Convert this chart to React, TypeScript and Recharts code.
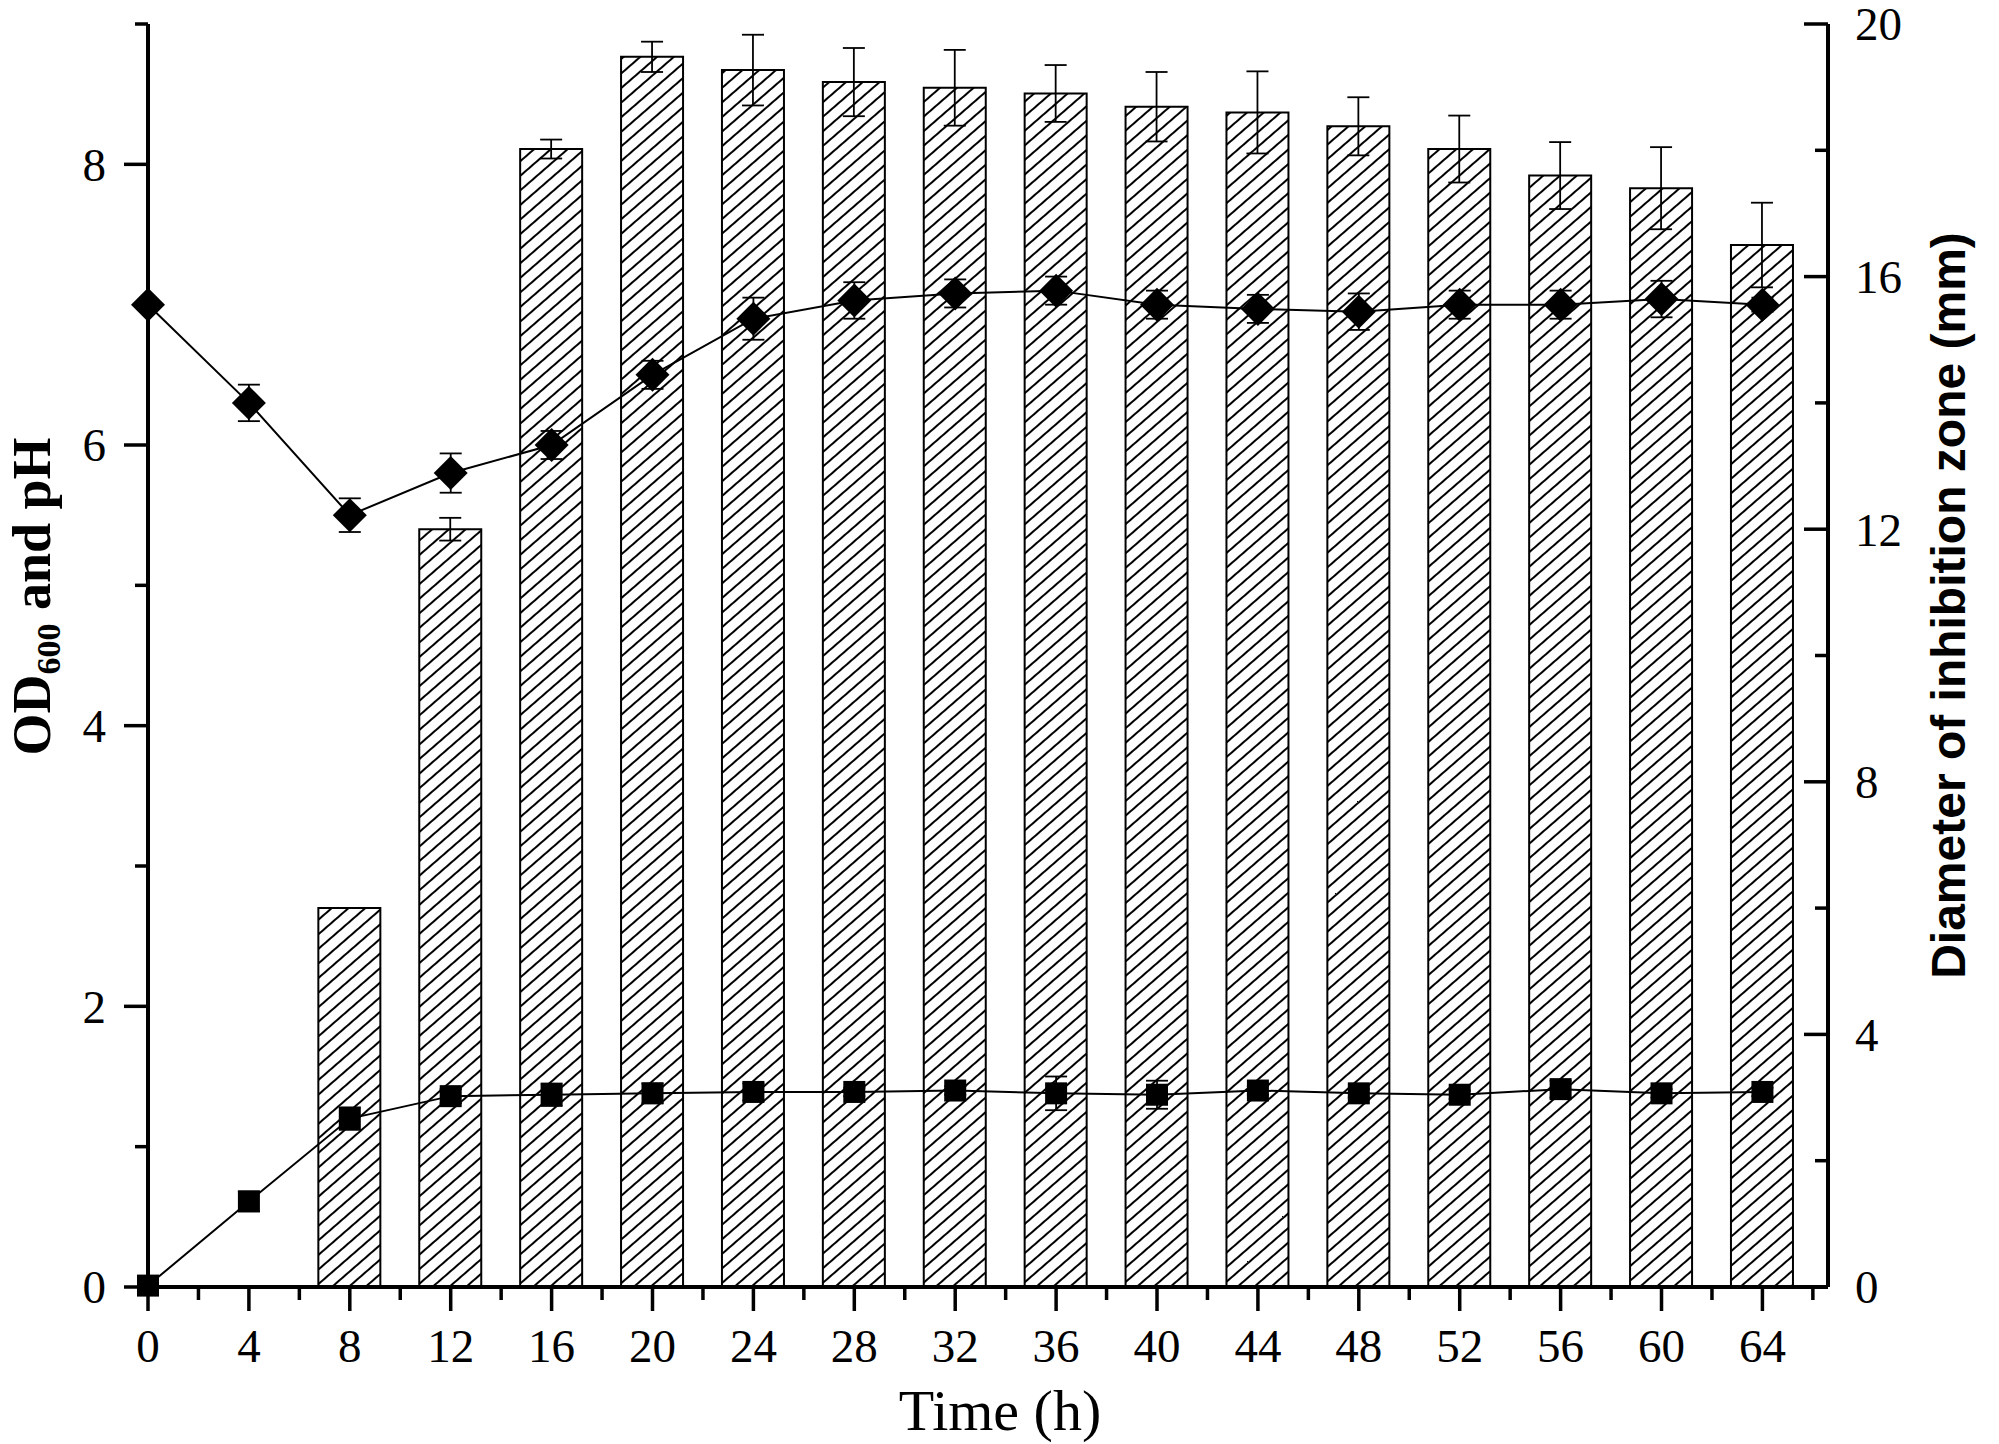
import React from "react";
import {
  ComposedChart,
  Bar,
  Line,
  XAxis,
  YAxis,
  ErrorBar,
} from "recharts";

// sampling times (h)
const hours = [0, 4, 8, 12, 16, 20, 24, 28, 32, 36, 40, 44, 48, 52, 56, 60, 64];
// diameter of inhibition zone (mm), right axis
const zone = [null, null, 6.0, 12.0, 18.02, 19.48, 19.27, 19.08, 18.99, 18.9, 18.69, 18.6, 18.38, 18.02, 17.6, 17.4, 16.5];
const zoneErr = [null, null, 0, 0.18, 0.15, 0.24, 0.56, 0.54, 0.6, 0.45, 0.55, 0.65, 0.46, 0.53, 0.53, 0.65, 0.67];
// pH, left axis
const ph = [7.0, 6.3, 5.5, 5.8, 6.0, 6.5, 6.9, 7.03, 7.08, 7.1, 7.0, 6.97, 6.95, 7.0, 7.0, 7.04, 7.0];
const phErr = [0, 0.13, 0.12, 0.14, 0.1, 0.1, 0.15, 0.13, 0.1, 0.1, 0.1, 0.1, 0.13, 0.1, 0.1, 0.13, 0.05];
// OD600, left axis
const od = [0.01, 0.61, 1.2, 1.36, 1.37, 1.38, 1.39, 1.39, 1.4, 1.38, 1.37, 1.4, 1.38, 1.37, 1.41, 1.38, 1.39];
const odErr = [0, 0.07, 0.08, 0.05, 0.08, 0.07, 0.06, 0.03, 0.03, 0.12, 0.1, 0.03, 0.03, 0.03, 0.06, 0.03, 0.03];

// axis ticks (majors get labels, minors are short)
const xTicks = [0, 2, 4, 6, 8, 10, 12, 14, 16, 18, 20, 22, 24, 26, 28, 30, 32, 34, 36, 38, 40, 42, 44, 46, 48, 50, 52, 54, 56, 58, 60, 62, 64, 66];
const leftTicks = [0, 1, 2, 3, 4, 5, 6, 7, 8, 9];
const rightTicks = [0, 2, 4, 6, 8, 10, 12, 14, 16, 18, 20];

const data = hours.map((h, i) => ({
  h,
  zone: zone[i],
  zoneErr: zoneErr[i],
  ph: ph[i],
  phErr: phErr[i],
  od: od[i],
  odErr: odErr[i],
}));

const SERIF = "'Liberation Serif', 'Times New Roman', serif";
const SANS = "'Liberation Sans', Arial, sans-serif";
const TICK_W = 3.5;

const XTick = (props: any) => {
  const { x, y, payload } = props;
  const major = payload.value % 4 === 0;
  const len = major ? 24 : 13;
  return (
    <g>
      <line x1={x} x2={x} y1={y} y2={y + len} stroke="#000" strokeWidth={TICK_W} />
      {major && (
        <text x={x} y={y + 75} textAnchor="middle" fontFamily={SERIF} fontSize={47} fill="#000">
          {payload.value}
        </text>
      )}
    </g>
  );
};

const LeftTick = (props: any) => {
  const { x, y, payload } = props;
  const major = payload.value % 2 === 0;
  const len = major ? 24 : 13;
  return (
    <g>
      <line x1={x} x2={x - len} y1={y} y2={y} stroke="#000" strokeWidth={TICK_W} />
      {major && (
        <text x={x - 42} y={y} dy="0.35em" textAnchor="end" fontFamily={SERIF} fontSize={47} fill="#000">
          {payload.value}
        </text>
      )}
    </g>
  );
};

const RightTick = (props: any) => {
  const { x, y, payload } = props;
  const major = payload.value % 4 === 0;
  const len = major ? 24 : 13;
  return (
    <g>
      <line x1={x} x2={x - len} y1={y} y2={y} stroke="#000" strokeWidth={TICK_W} />
      {major && (
        <text x={x + 27} y={y} dy="0.35em" textAnchor="start" fontFamily={SERIF} fontSize={47} fill="#000">
          {payload.value}
        </text>
      )}
    </g>
  );
};

const Diamond = (props: any) => {
  const { cx, cy } = props;
  if (cx == null || cy == null || isNaN(cy)) return null;
  const r = 17;
  return (
    <path
      d={`M${cx},${cy - r} L${cx + r},${cy} L${cx},${cy + r} L${cx - r},${cy} Z`}
      fill="#000"
    />
  );
};

const Square = (props: any) => {
  const { cx, cy } = props;
  if (cx == null || cy == null || isNaN(cy)) return null;
  const s = 22;
  return <rect x={cx - s / 2} y={cy - s / 2} width={s} height={s} fill="#000" />;
};

const XTitle = (props: any) => {
  const { viewBox } = props;
  return (
    <text
      x={viewBox.x + viewBox.width / 2 + 12}
      y={viewBox.y + 143}
      textAnchor="middle"
      fontFamily={SERIF}
      fontSize={58}
      fill="#000"
    >
      Time (h)
    </text>
  );
};

const LeftTitle = (props: any) => {
  const { viewBox } = props;
  const cx = viewBox.x + 50;
  const cy = viewBox.y + viewBox.height / 2 - 59;
  return (
    <text
      x={cx}
      y={cy}
      transform={`rotate(-90, ${cx}, ${cy})`}
      textAnchor="middle"
      fontFamily={SERIF}
      fontWeight="bold"
      fontSize={54}
      fill="#000"
    >
      OD
      <tspan fontSize={34} dy={10}>600</tspan>
      <tspan dy={-10}> and pH</tspan>
    </text>
  );
};

const RightTitle = (props: any) => {
  const { viewBox } = props;
  const cx = viewBox.x + 137;
  const cy = viewBox.y + viewBox.height / 2 - 50;
  return (
    <text
      x={cx}
      y={cy}
      transform={`rotate(-90, ${cx}, ${cy})`}
      textAnchor="middle"
      fontFamily={SANS}
      fontWeight="bold"
      fontSize={48}
      fill="#000"
    >
      Diameter of inhibition zone (mm)
    </text>
  );
};

export default function App() {
  return (
    <div style={{ position: "absolute", left: 0, top: 0, width: 1999, height: 1444, background: "#fff" }}>
      <ComposedChart
        width={1999}
        height={1444}
        data={data}
        margin={{ top: 24, right: 0, bottom: 0, left: 0 }}
      >
        <defs>
          <pattern
            id="hatch"
            patternUnits="userSpaceOnUse"
            width={11}
            height={30}
            patternTransform="rotate(49)"
          >
            <rect x={0} y={0} width={11} height={30} fill="#fff" />
            <line x1={1} y1={0} x2={1} y2={30} stroke="#000" strokeWidth={2} />
          </pattern>
        </defs>
        <XAxis
          dataKey="h"
          type="number"
          domain={[0, 66.6]}
          ticks={xTicks}
          interval={0}
          height={157}
          tickSize={0}
          tickMargin={0}
          tickLine={false}
          axisLine={{ stroke: "#000", strokeWidth: 4 }}
          tick={<XTick />}
          label={<XTitle />}
        />
        <YAxis
          yAxisId="left"
          orientation="left"
          domain={[0, 9]}
          ticks={leftTicks}
          interval={0}
          width={148}
          tickSize={0}
          tickMargin={0}
          tickLine={false}
          axisLine={{ stroke: "#000", strokeWidth: 4 }}
          tick={<LeftTick />}
          label={<LeftTitle />}
        />
        <YAxis
          yAxisId="right"
          orientation="right"
          domain={[0, 20]}
          ticks={rightTicks}
          interval={0}
          width={171}
          tickSize={0}
          tickMargin={0}
          tickLine={false}
          axisLine={{ stroke: "#000", strokeWidth: 4 }}
          tick={<RightTick />}
          label={<RightTitle />}
        />
        <Bar
          yAxisId="right"
          dataKey="zone"
          barSize={62}
          fill="url(#hatch)"
          stroke="#000"
          strokeWidth={2}
          isAnimationActive={false}
        >
          <ErrorBar dataKey="zoneErr" width={11} stroke="#000" strokeWidth={1.8} direction="y" />
        </Bar>
        <Line
          yAxisId="left"
          type="linear"
          dataKey="ph"
          stroke="#000"
          strokeWidth={2}
          dot={<Diamond />}
          activeDot={false}
          isAnimationActive={false}
        >
          <ErrorBar dataKey="phErr" width={11} stroke="#000" strokeWidth={1.8} direction="y" />
        </Line>
        <Line
          yAxisId="left"
          type="linear"
          dataKey="od"
          stroke="#000"
          strokeWidth={2}
          dot={<Square />}
          activeDot={false}
          isAnimationActive={false}
        >
          <ErrorBar dataKey="odErr" width={11} stroke="#000" strokeWidth={1.8} direction="y" />
        </Line>
      </ComposedChart>
    </div>
  );
}
